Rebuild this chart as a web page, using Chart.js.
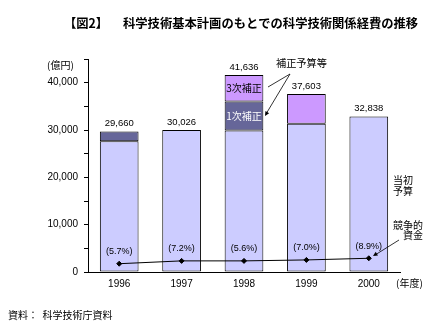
<!DOCTYPE html>
<html lang="ja">
<head>
    <meta charset="UTF-8">
    <title>科学技術関係経費の推移</title>
    <script src="https://cdn.jsdelivr.net/npm/chart.js"></script>
    <style>
        html, body {
            margin: 0;
            padding: 0;
            background: #fff;
        }
        .chart-container {
            width: 432px;
            height: 322px;
        }
    </style>
</head>
<body>
    <div class="chart-container">
        <canvas id="chart" width="432" height="322"></canvas>
    </div>

    <script>
        // 年度
        const years = ["1996", "1997", "1998", "1999", "2000"];
        // 当初予算 (億円)
        const initialBudget = [27600, 30026, 29900, 31300, 32838];
        // 補正予算 (1996 補正 / 1998 1次補正)
        const supplement1 = [2060, null, 6140, null, null];
        // 補正予算 (1998 3次補正 / 1999 補正)
        const supplement3 = [null, null, 5596, 6303, null];
        // 合計と表示ラベル
        const totals = [29660, 30026, 41636, 37603, 32838];
        const totalLabels = ["29,660", "30,026", "41,636", "37,603", "32,838"];
        // 競争的資金 (億円) とその比率
        const competitiveFunds = [1750, 2350, 2350, 2550, 2900];
        const competitiveShare = ["(5.7%)", "(7.2%)", "(5.6%)", "(7.0%)", "(8.9%)"];
        // 目盛り
        const yMax = 45000;
        const yStep = 5000;

        const jp = '"Noto Sans CJK JP", sans-serif';
        const latin = '"Liberation Sans", Arial, sans-serif';

        const textPlugin = {
            id: 'texts',
            afterDatasetsDraw(chart) {
                const ctx = chart.ctx;
                const xs = chart.scales.x;
                const ys = chart.scales.y;
                ctx.save();
                ctx.fillStyle = '#000';
                ctx.strokeStyle = '#000';

                // タイトル
                ctx.font = 'bold 12.3px ' + jp;
                ctx.textAlign = 'left';
                ctx.textBaseline = 'middle';
                ctx.fillText('【図2】', 64, 23);
                ctx.fillText('科学技術基本計画のもとでの科学技術関係経費の推移', 123, 23);

                // 単位
                ctx.font = '10px ' + jp;
                ctx.fillText('(億円)', 47, 65);
                ctx.fillText('(年度)', 396, 283);

                // 合計値
                ctx.font = '9.5px ' + latin;
                ctx.textAlign = 'center';
                totals.forEach((v, i) => {
                    ctx.fillText(totalLabels[i], xs.getPixelForValue(i), ys.getPixelForValue(v) - 8);
                });

                // 競争的資金の比率
                ctx.font = '9px ' + latin;
                competitiveFunds.forEach((v, i) => {
                    ctx.fillText(competitiveShare[i], xs.getPixelForValue(i), ys.getPixelForValue(v) - 12);
                });

                // 棒の中の文字
                const x98 = xs.getPixelForValue(2);
                ctx.font = '10px ' + jp;
                ctx.fillStyle = '#000';
                ctx.fillText('3次補正', x98, ys.getPixelForValue(initialBudget[2] + supplement1[2] + supplement3[2] / 2));
                ctx.fillStyle = '#fff';
                ctx.fillText('1次補正', x98, ys.getPixelForValue(initialBudget[2] + supplement1[2] / 2));

                // 注記
                ctx.fillStyle = '#000';
                ctx.font = '10.2px ' + jp;
                ctx.textAlign = 'left';
                ctx.fillText('補正予算等', 276, 63);
                ctx.font = '10px ' + jp;
                ctx.fillText('当初', 393, 180);
                ctx.fillText('予算', 393, 191);
                ctx.textAlign = 'right';
                ctx.fillText('競争的', 423, 225);
                ctx.fillText('資金', 423, 235);

                ctx.lineWidth = 0.8;
                ctx.beginPath();
                ctx.moveTo(290, 74);
                ctx.lineTo(268, 87);
                ctx.moveTo(290, 74);
                ctx.lineTo(266, 114);
                ctx.moveTo(399, 240);
                ctx.lineTo(375, 255);
                ctx.stroke();

                // 矢印
                const arrow = (x1, y1, x2, y2) => {
                    const a = Math.atan2(y2 - y1, x2 - x1);
                    ctx.beginPath();
                    ctx.moveTo(x2, y2);
                    ctx.lineTo(x2 - 5 * Math.cos(a - 0.45), y2 - 5 * Math.sin(a - 0.45));
                    ctx.lineTo(x2 - 5 * Math.cos(a + 0.45), y2 - 5 * Math.sin(a + 0.45));
                    ctx.closePath();
                    ctx.fill();
                };
                arrow(290, 74, 265, 116);
                arrow(399, 240, 373, 256);

                // 資料
                ctx.textAlign = 'left';
                ctx.font = '10px ' + jp;
                ctx.fillText('資料：  科学技術庁資料', 8, 315);
                ctx.restore();
            }
        };

        const ctx = document.getElementById('chart').getContext('2d');
        new Chart(ctx, {
            data: {
                labels: years,
                datasets: [
                    {
                        type: 'line',
                        label: '競争的資金',
                        data: competitiveFunds,
                        stack: 'line',
                        borderColor: '#000',
                        borderWidth: 1,
                        pointStyle: 'rectRot',
                        pointRadius: 2.5,
                        pointBackgroundColor: '#000',
                        pointBorderColor: '#000',
                        order: 0
                    },
                    {
                        type: 'bar',
                        label: '当初予算',
                        data: initialBudget,
                        stack: 'bars',
                        backgroundColor: '#ccccff',
                        borderColor: '#000',
                        borderWidth: 1,
                        borderSkipped: false,
                        order: 1
                    },
                    {
                        type: 'bar',
                        label: '1次補正',
                        data: supplement1,
                        stack: 'bars',
                        backgroundColor: '#666699',
                        borderColor: '#000',
                        borderWidth: 1,
                        borderSkipped: false,
                        order: 1
                    },
                    {
                        type: 'bar',
                        label: '3次補正',
                        data: supplement3,
                        stack: 'bars',
                        backgroundColor: '#cc99ff',
                        borderColor: '#000',
                        borderWidth: 1,
                        borderSkipped: false,
                        order: 1
                    }
                ]
            },
            options: {
                responsive: false,
                animation: false,
                layout: {
                    padding: { top: 59, right: 32, left: 0, bottom: 0 }
                },
                datasets: {
                    bar: { barPercentage: 0.62, categoryPercentage: 1 }
                },
                plugins: {
                    legend: { display: false },
                    tooltip: { enabled: false }
                },
                scales: {
                    x: {
                        stacked: true,
                        grid: { drawOnChartArea: false, drawTicks: false },
                        border: { color: '#000', width: 1 },
                        ticks: {
                            color: '#000',
                            padding: 6,
                            font: { family: latin, size: 10 }
                        },
                        afterFit(scale) { scale.height = 50; }
                    },
                    y: {
                        stacked: true,
                        min: 0,
                        max: yMax,
                        grid: { drawOnChartArea: false, tickLength: 4, color: '#000' },
                        border: { color: '#000', width: 1 },
                        ticks: {
                            stepSize: yStep,
                            color: '#000',
                            padding: 6,
                            font: { family: latin, size: 10 },
                            callback: (v) => (v % 10000 === 0 && v < yMax) ? v.toLocaleString('en-US') : ''
                        },
                        afterFit(scale) { scale.width = 88; }
                    }
                }
            },
            plugins: [textPlugin]
        });
    </script>
</body>
</html>
